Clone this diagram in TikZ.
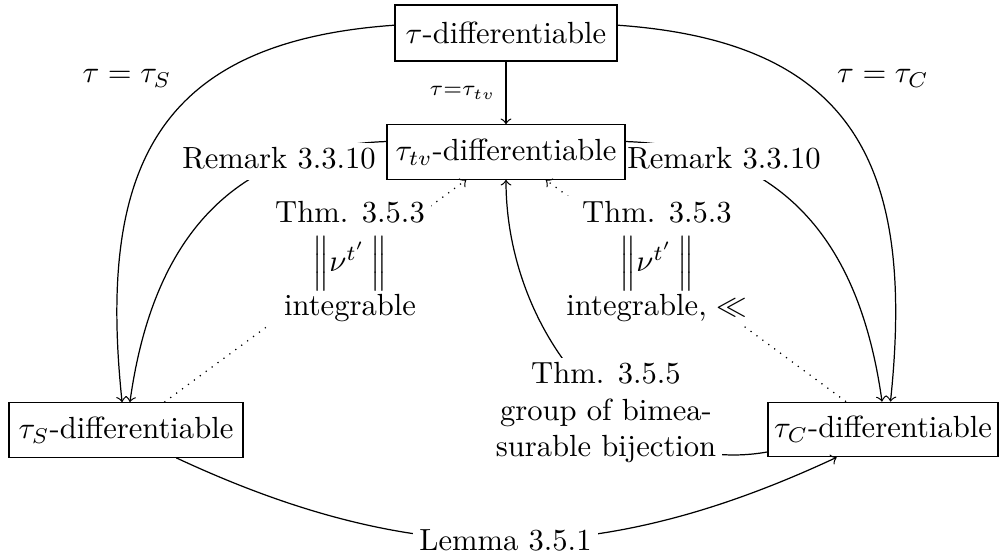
\documentclass[tikz,border=0pt]{standalone}
\usetikzlibrary{backgrounds}
\begin{document}
\begin{tikzpicture}[x=0.3268pt,y=0.3268pt,
  box/.style={draw, inner xsep=0pt, inner ysep=0pt, minimum height=17.8pt},
  desc/.style={fill=white, inner xsep=2pt, inner ysep=0pt, align=center},
  conn/.style={->},
  dotconn/.style={->, dotted}]
\useasboundingbox (0,0) rectangle (999,-560);
% boxes
\node[box, minimum width=72.5pt, minimum height=18.3pt] (top) at (506,-33) {$\tau$-differentiable};
\node[box, minimum width=77.8pt] (tv) at (506,-152) {$\tau_{tv}$-differentiable};
\node[box, minimum width=76.5pt] (S) at (126,-430) {$\tau_S$-differentiable};
\node[box, minimum width=75.2pt] (C) at (883,-429.5) {$\tau_C$-differentiable};
% plain labels
\node[anchor=base] (eqS) at (127,-83) {$\tau = \tau_S$};
\node[anchor=base] (eqC) at (883,-83) {$\tau = \tau_C$};
\draw[conn] (top) -- node[left] (eqtv) {$\scriptstyle\tau=\tau_{tv}$} (tv);
\begin{pgfonlayer}{background}
% connectors
\draw[conn] (top.176) .. controls +(184:77.5pt) and +(96:77.5pt) .. (S.98);
\draw[conn] (top.4) .. controls +(-4:77.5pt) and +(84:77.5pt) .. (C.75);
\draw[conn] (tv.175) .. controls +(182:56pt) and +(82:47pt) .. (S.82);
\draw[conn] (tv.5) .. controls +(-2:56pt) and +(98:47pt) .. (C.92);
\draw[dotconn] (S.36) -- (tv.215);
\draw[dotconn] (C.143) -- (tv.-35);
\draw[conn] (C.191) .. controls +(190:49pt) and +(-90:49pt) .. (tv.south);
\draw[conn] (S.-29) .. controls +(-25:85.6pt) and +(205:85.6pt) .. (C.211);
% description labels
\node[desc, anchor=base] (remL) at (279,-169) {Remark 3.3.10\strut};
\node[desc, anchor=base] (remR) at (724,-169) {Remark 3.3.10\strut};
\node[desc, anchor=north] (thmL) at (350,-195.7) {Thm. 3.5.3\strut\\ $\Big\|\nu^{t'}\,\Big\|$\\ integrable\rule[-3.5pt]{0pt}{3.5pt}};
\node[desc, anchor=north] (thmR) at (657,-195.7) {Thm. 3.5.3\strut\\ $\Big\|\nu^{t'}\,\Big\|$\\ integrable, $\ll$\rule[-3.5pt]{0pt}{3.5pt}};
\node[desc, anchor=north] (bij) at (606,-357) {Thm. 3.5.5\strut\\ group of bimea-\\ surable bijection\strut};
\node[desc, anchor=base] (lem) at (505.5,-551) {Lemma 3.5.1\strut};
\end{pgfonlayer}
\end{tikzpicture}
\end{document}
